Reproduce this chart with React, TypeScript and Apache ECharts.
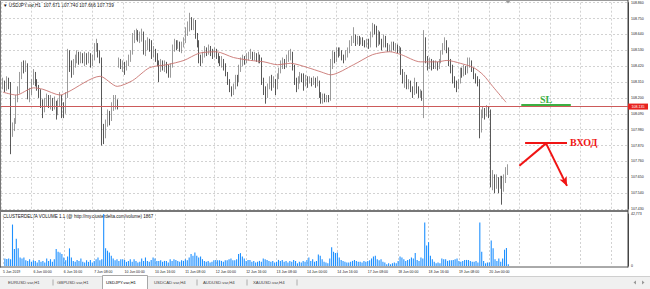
import React, { useEffect, useRef } from "react";
import * as echarts from "echarts";

// ---------- data ----------
const tickLabels = [
  "5 Jun 2019", "6 Jun 00:00", "6 Jun 16:00", "7 Jun 08:00", "10 Jun 00:00", "10 Jun 16:00",
  "11 Jun 08:00", "12 Jun 00:00", "12 Jun 16:00", "13 Jun 08:00", "14 Jun 00:00", "14 Jun 16:00",
  "17 Jun 08:00", "18 Jun 00:00", "18 Jun 16:00", "19 Jun 08:00", "20 Jun 00:00",
];
const BARS_PER_LABEL = 16;
const TOTAL_SLOTS = 330; // includes the empty chart-shift area on the right
const LEAD = 1;

const closes = [
  108.30,108.27,108.31,108.30,107.96,108.00,108.03,108.20,108.24,108.35,
  108.42,108.40,108.43,108.21,108.24,108.31,108.36,108.30,108.27,108.24,
  108.16,108.12,108.17,108.20,108.16,108.19,108.14,108.17,108.10,108.16,
  108.20,108.15,108.10,108.22,108.50,108.44,108.38,108.43,108.47,108.50,
  108.46,108.49,108.47,108.50,108.46,108.49,108.44,108.48,108.55,108.57,
  108.50,108.47,107.97,107.94,108.02,108.08,108.05,108.13,108.16,108.18,
  108.15,108.45,108.42,108.44,108.41,108.44,108.47,108.51,108.62,108.63,
  108.65,108.61,108.63,108.64,108.52,108.56,108.59,108.55,108.50,108.53,
  108.49,108.45,108.41,108.44,108.41,108.43,108.40,108.36,108.42,108.55,
  108.58,108.56,108.58,108.55,108.57,108.60,108.66,108.69,108.72,108.70,
  108.73,108.63,108.58,108.47,108.45,108.50,108.53,108.51,108.54,108.52,
  108.50,108.52,108.49,108.47,108.44,108.46,108.42,108.37,108.32,108.27,
  108.24,108.28,108.34,108.31,108.41,108.45,108.47,108.45,108.48,108.50,
  108.51,108.48,108.50,108.47,108.49,108.46,108.31,108.26,108.22,108.28,
  108.33,108.29,108.32,108.27,108.35,108.39,108.43,108.44,108.42,108.47,
  108.49,108.51,108.42,108.32,108.28,108.33,108.36,108.33,108.30,108.34,
  108.31,108.33,108.30,108.33,108.30,108.31,108.22,108.19,108.21,108.19,
  108.20,108.19,108.44,108.50,108.47,108.52,108.51,108.53,108.48,108.47,
  108.51,108.52,108.58,108.60,108.63,108.59,108.61,108.59,108.60,108.58,
  108.57,108.59,108.56,108.64,108.69,108.67,108.57,108.64,108.60,108.56,
  108.62,108.57,108.54,108.55,108.57,108.55,108.56,108.53,108.54,108.38,
  108.33,108.35,108.29,108.31,108.26,108.23,108.30,108.26,108.22,108.24,
  108.21,108.58,108.47,108.42,108.45,108.43,108.42,108.44,108.41,108.45,
  108.51,108.56,108.59,108.54,108.45,108.42,108.33,108.30,108.27,108.31,
  108.39,108.37,108.40,108.38,108.44,108.45,108.40,108.36,108.33,108.31,
  107.97,108.09,108.12,108.08,108.12,108.10,107.62,107.65,107.60,107.63,
  107.58,107.62,107.58,107.64,107.671,107.739,
];
const highs = [
  108.34,108.32,108.35,108.34,108.31,108.03,108.06,108.22,108.28,108.38,
  108.45,108.46,108.46,108.44,108.27,108.33,108.40,108.38,108.33,108.29,
  108.26,108.19,108.20,108.23,108.22,108.22,108.20,108.21,108.18,108.19,
  108.24,108.22,108.17,108.24,108.54,108.53,108.46,108.47,108.50,108.53,
  108.52,108.52,108.51,108.52,108.51,108.52,108.51,108.50,108.58,108.61,
  108.58,108.53,108.48,108.02,108.05,108.12,108.11,108.17,108.22,108.22,
  108.19,108.48,108.47,108.46,108.45,108.46,108.50,108.53,108.65,108.67,
  108.68,108.67,108.66,108.68,108.66,108.60,108.62,108.61,108.60,108.56,
  108.54,108.51,108.46,108.47,108.46,108.46,108.45,108.43,108.44,108.57,
  108.61,108.60,108.60,108.59,108.59,108.62,108.69,108.73,108.79,108.76,
  108.75,108.74,108.65,108.60,108.50,108.52,108.56,108.55,108.57,108.56,
  108.54,108.55,108.54,108.51,108.49,108.49,108.47,108.44,108.38,108.33,
  108.28,108.30,108.36,108.36,108.43,108.48,108.50,108.49,108.51,108.52,
  108.54,108.52,108.52,108.51,108.52,108.50,108.48,108.34,108.28,108.30,
  108.35,108.36,108.35,108.33,108.37,108.41,108.46,108.48,108.47,108.50,
  108.53,108.54,108.52,108.43,108.34,108.35,108.38,108.37,108.37,108.36,
  108.35,108.35,108.34,108.35,108.34,108.35,108.32,108.24,108.23,108.23,
  108.22,108.22,108.47,108.53,108.52,108.55,108.55,108.55,108.53,108.50,
  108.53,108.55,108.60,108.63,108.69,108.64,108.63,108.63,108.62,108.62,
  108.60,108.61,108.61,108.66,108.72,108.71,108.70,108.67,108.66,108.61,
  108.64,108.63,108.58,108.57,108.59,108.59,108.58,108.57,108.56,108.55,
  108.40,108.38,108.36,108.33,108.32,108.28,108.34,108.31,108.28,108.26,
  108.25,108.67,108.62,108.49,108.48,108.47,108.46,108.46,108.45,108.47,
  108.53,108.58,108.62,108.60,108.55,108.47,108.43,108.35,108.32,108.33,
  108.41,108.41,108.43,108.42,108.48,108.48,108.46,108.41,108.37,108.35,
  108.33,108.12,108.14,108.13,108.15,108.14,108.12,107.70,107.67,107.67,
  107.65,107.66,107.66,107.67,107.72,107.740,
];
const lows = [
  108.26,108.24,108.25,108.26,107.81,107.93,107.97,108.02,108.17,108.23,
  108.33,108.37,108.38,108.19,108.17,108.22,108.29,108.28,108.25,108.20,
  108.13,108.06,108.10,108.14,108.13,108.12,108.11,108.12,108.05,108.08,
  108.14,108.06,108.06,108.09,108.20,108.38,108.34,108.36,108.41,108.44,
  108.43,108.44,108.44,108.42,108.43,108.44,108.41,108.42,108.46,108.52,
  108.48,108.44,107.87,107.88,107.92,108.00,108.01,108.04,108.11,108.12,
  108.12,108.41,108.40,108.38,108.36,108.39,108.42,108.45,108.50,108.58,
  108.60,108.59,108.58,108.59,108.50,108.49,108.53,108.52,108.47,108.48,
  108.45,108.42,108.31,108.38,108.39,108.38,108.37,108.34,108.34,108.41,
  108.52,108.53,108.54,108.52,108.51,108.55,108.58,108.63,108.66,108.67,
  108.67,108.61,108.55,108.44,108.42,108.44,108.48,108.49,108.50,108.49,
  108.47,108.48,108.47,108.44,108.42,108.41,108.39,108.35,108.29,108.24,
  108.21,108.22,108.26,108.28,108.31,108.38,108.42,108.43,108.44,108.46,
  108.47,108.46,108.46,108.45,108.44,108.44,108.29,108.22,108.16,108.20,
  108.26,108.25,108.27,108.22,108.26,108.33,108.37,108.40,108.40,108.41,
  108.45,108.46,108.39,108.29,108.24,108.26,108.30,108.31,108.25,108.28,
  108.27,108.30,108.28,108.29,108.27,108.28,108.20,108.16,108.16,108.17,
  108.17,108.17,108.18,108.40,108.44,108.45,108.48,108.49,108.46,108.44,
  108.46,108.48,108.51,108.56,108.58,108.56,108.57,108.56,108.57,108.56,
  108.55,108.55,108.54,108.55,108.62,108.64,108.55,108.56,108.57,108.53,
  108.55,108.55,108.52,108.52,108.52,108.53,108.52,108.51,108.51,108.36,
  108.30,108.27,108.26,108.26,108.24,108.20,108.22,108.23,108.20,108.20,
  108.18,108.06,108.44,108.39,108.40,108.39,108.40,108.40,108.39,108.40,
  108.44,108.50,108.53,108.51,108.42,108.37,108.30,108.27,108.24,108.26,
  108.30,108.34,108.35,108.36,108.37,108.41,108.38,108.33,108.30,108.28,
  107.92,107.96,108.06,108.05,108.07,108.06,107.58,107.56,107.54,107.57,
  107.54,107.57,107.46,107.55,107.61,107.666,
];
// opens that differ from the previous close (first bar, Monday gap)
const openGaps: Record<number, number> = { 0: 108.28, 61: 108.44 };

const volumes = [
  6100,5800,6200,5600,34100,14000,22400,14500,7000,6200,
  7000,4800,4200,5600,3400,4800,4200,2800,5000,3400,
  4200,2800,6200,4200,5600,3400,5600,14000,11700,11200,
  9800,7000,4800,7800,14500,7000,4200,3400,5000,4200,
  6200,3400,2800,4800,3400,5000,2800,4200,5600,7000,
  4800,5600,42773,14500,12600,11200,8400,6200,4800,5600,
  4200,5600,5600,5000,3400,4200,5600,3400,5600,4200,
  2800,3400,6200,4200,7000,4200,3400,5000,7000,6200,
  4200,4200,4800,3400,4200,4200,2800,5600,4200,5600,
  5000,4200,3400,4800,4200,5600,4800,7000,9800,8400,
  11200,8400,7000,7800,5600,4200,3400,4200,2800,3400,
  4800,5000,4800,4800,4200,3400,4800,4800,5600,6200,
  4800,4800,5600,9800,10600,7800,6200,4200,5000,5000,
  3400,4200,2800,3400,4200,3400,6200,5600,5000,4200,
  3400,4200,2800,3400,5000,4200,5000,3400,4200,2800,
  4200,3400,5000,4200,2200,3400,2800,4200,3400,5000,
  7000,4200,5600,3400,4200,9400,8400,5600,3400,2800,
  2200,6200,15400,11700,10600,11200,7000,5000,4200,3400,
  2800,2800,3400,4200,5000,4200,3400,3400,2800,4200,
  3400,4200,4800,6200,7800,8400,5600,4800,5600,3400,
  2800,1400,2200,1400,2200,2800,2200,4200,7800,7000,
  5600,4200,5000,5600,7000,6200,10600,5000,4200,7000,
  6200,35800,16800,19600,8400,5600,3400,2200,2800,2200,
  6200,5600,5600,4200,4800,4800,5000,5600,6200,4200,
  3400,4200,5000,5000,5000,4200,3400,3400,4200,2800,
  35800,11700,4200,2200,2800,2800,21000,14500,5600,4200,
  6200,3400,6200,13400,14800,1400,
];
const volumeMax = 42773;

// moving average read at sampled bars: [bar, value]
const maPoints: [number, number][] = [
  [0,108.24],[7,108.22],[16,108.27],[21,108.26],[30,108.22],[34,108.24],[51,108.35],
  [60,108.28],[68,108.32],[77,108.41],[86,108.43],[95,108.46],[103,108.51],[112,108.52],
  [121,108.48],[130,108.46],[137,108.45],[144,108.43],[151,108.44],[160,108.41],[167,108.38],
  [172,108.36],[184,108.43],[194,108.50],[203,108.52],[209,108.50],[219,108.45],[228,108.45],
  [233,108.46],[240,108.44],[247,108.41],[252,108.36],[257,108.28],[264,108.17],
];

const priceMin = 107.43;
const priceMax = 108.86;
const priceStep = 0.11;
const levelLine = 108.135;
const lastPrice = 107.739;
const symbolHeader = "USDJPY.var,H1";
const ohlcHeader = [107.671, 107.74, 107.666, 107.739];
const indicatorTitle = "CLUSTERDELTA VOLUME 1.1 (@ http://my.clusterdelta.com/volume) 1867";
const tabs = ["EURUSD.var,H1", "GBPUSD.var,H1", "USDJPY.var,H1", "USDCAD.var,H4", "AUDUSD.var,H4", "XAUUSD.var,H4"];

// hand-drawn annotations, in (slot, price)
const slLevel = 108.15;
const slSlots = [273, 299];
const entryLevel = 107.89;
const entrySlots = [275, 297];
const arrowPts: [number, number][] = [[272, 107.73], [286, 107.885], [297, 107.59]];

// ---------- component ----------
const SANS = "'Liberation Sans', 'DejaVu Sans', sans-serif";
const SERIF = "'Liberation Serif', 'DejaVu Serif', serif";

export default function App() {
  const ref = useRef<HTMLDivElement>(null);

  useEffect(() => {
    if (!ref.current) return;
    const chart = echarts.init(ref.current, undefined, { renderer: "svg" });

    const categories = Array.from({ length: TOTAL_SLOTS }, (_, c) =>
      c % BARS_PER_LABEL === 0 && c / BARS_PER_LABEL < tickLabels.length ? tickLabels[c / BARS_PER_LABEL] : ""
    );

    const candleData = closes.map((cl, j) => {
      const o = openGaps[j] !== undefined ? openGaps[j] : closes[j - 1];
      return [j + LEAD, o, cl, Math.min(lows[j], o, cl), Math.max(highs[j], o, cl)];
    });
    const volData = volumes.map((v, j) => [j + LEAD, v]);
    const maData = maPoints.map(([j, v]) => [j + LEAD, v]);

    const grid = { color: "#d2d2d2", type: [2, 2] as any, width: 1 };
    const red = "#f01414";
    const green = "#3cb043";

    const tabGraphics: any[] = [];
    const tabXs = [8, 57, 106, 154, 203, 253];
    const sepXs = [53, 197, 247, 297];
    tabGraphics.push({ type: "rect", shape: { x: 0, y: 276, width: 650, height: 13 }, style: { fill: "#f0f0f0" }, silent: true });
    tabGraphics.push({ type: "line", shape: { x1: 0, y1: 276.5, x2: 650, y2: 276.5 }, style: { stroke: "#cfcfcf", lineWidth: 1 }, silent: true });
    tabGraphics.push({ type: "rect", shape: { x: 102.5, y: 275.5, width: 45, height: 14 }, style: { fill: "#ffffff", stroke: "#a8a8a8", lineWidth: 1 }, silent: true });
    tabs.forEach((t, i) => {
      tabGraphics.push({
        type: "text", x: tabXs[i], y: 282.5, silent: true,
        style: { text: t, fontSize: 4.3, fontFamily: SANS, fill: i === 2 ? "#000" : "#444", align: "left", verticalAlign: "middle", textAlign: "left", textVerticalAlign: "middle" },
      });
    });
    sepXs.forEach((x) => {
      tabGraphics.push({ type: "line", shape: { x1: x, y1: 279.5, x2: x, y2: 285.5 }, style: { stroke: "#999", lineWidth: 0.8 }, silent: true });
    });

    const option: any = {
      animation: false,
      backgroundColor: "#ffffff",
      textStyle: { fontFamily: SANS },
      grid: [
        { left: 1, width: 627, top: 2.7, height: 206.3 },
        { left: 1, width: 627, top: 214, height: 52 },
      ],
      xAxis: [
        {
          type: "category", gridIndex: 0, data: categories, boundaryGap: false,
          axisLine: { show: false }, axisTick: { show: false }, axisLabel: { show: false },
          splitLine: { show: true, interval: BARS_PER_LABEL - 1, lineStyle: grid },
        },
        {
          type: "category", gridIndex: 1, data: categories, boundaryGap: false,
          axisLine: { show: false }, axisTick: { show: false },
          axisLabel: { show: true, interval: BARS_PER_LABEL - 1, align: "left", fontSize: 3.5, color: "#222", margin: 3.5 },
          splitLine: { show: true, interval: BARS_PER_LABEL - 1, lineStyle: grid },
        },
      ],
      yAxis: [
        {
          type: "value", gridIndex: 0, position: "right", min: priceMin, max: priceMax, interval: priceStep,
          axisLine: { show: true, lineStyle: { color: "#444", width: 1 } }, axisTick: { show: false },
          axisLabel: { fontSize: 3.5, color: "#222", margin: 3, formatter: (v: number) => v.toFixed(3) },
          splitLine: { show: true, lineStyle: grid },
        },
        {
          type: "value", gridIndex: 1, position: "right", min: 0, max: volumeMax, interval: volumeMax,
          axisLine: { show: true, lineStyle: { color: "#444", width: 1 } }, axisTick: { show: false },
          axisLabel: { fontSize: 3.5, color: "#222", margin: 3 },
          splitLine: { show: false },
        },
      ],
      series: [
        {
          type: "candlestick", xAxisIndex: 0, yAxisIndex: 0,
          data: candleData, encode: { x: 0, y: [1, 2, 3, 4] },
          barWidth: 1.3,
          itemStyle: { color: "#ffffff", color0: "#111111", borderColor: "#707070", borderColor0: "#111111", borderWidth: 0.7 },
          markLine: {
            silent: true, animation: false, symbol: ["none", "none"],
            data: [
              {
                yAxis: levelLine,
                lineStyle: { color: "#cc5a5a", width: 1, type: "solid" },
                label: { show: true, position: "end", distance: 0, formatter: levelLine.toFixed(3), color: "#fff", backgroundColor: "#e8231f", fontSize: 3.6, padding: [1, 3.5] },
              },
              {
                yAxis: lastPrice,
                lineStyle: { color: "#000", width: 0, opacity: 0 },
                label: { show: true, position: "end", distance: 0, formatter: lastPrice.toFixed(3), color: "#fff", backgroundColor: "#000", fontSize: 3.6, padding: [1, 3.5] },
              },
              [
                {
                  coord: [slSlots[0], slLevel], symbol: "none",
                  lineStyle: { color: green, width: 2, type: "solid" },
                  label: { show: true, position: "insideMiddleTop", distance: 1, formatter: "SL", color: green, fontSize: 10, fontWeight: "bold", fontFamily: SERIF },
                },
                { coord: [slSlots[1], slLevel], symbol: "none" },
              ],
              [
                {
                  coord: [entrySlots[0], entryLevel], symbol: "none",
                  lineStyle: { color: red, width: 2, type: "solid" },
                  label: { show: true, position: "end", distance: 3, formatter: "ВХОД", color: red, fontSize: 10, fontWeight: "bold", fontFamily: SERIF },
                },
                { coord: [entrySlots[1], entryLevel], symbol: "none" },
              ],
              [
                { coord: arrowPts[0], symbol: "none", lineStyle: { color: red, width: 2, type: "solid" }, label: { show: false } },
                { coord: arrowPts[1], symbol: "none" },
              ],
              [
                { coord: arrowPts[1], symbol: "none", lineStyle: { color: red, width: 2, type: "solid" }, label: { show: false } },
                { coord: arrowPts[2], symbol: "arrow", symbolSize: [6, 9] },
              ],
            ],
          },
          z: 2,
        },
        {
          type: "line", xAxisIndex: 0, yAxisIndex: 0, data: maData,
          symbol: "none", smooth: 0.25, lineStyle: { color: "#c87470", width: 0.9 }, z: 3, silent: true,
        },
        {
          type: "bar", xAxisIndex: 1, yAxisIndex: 1, data: volData,
          barWidth: 1.1, itemStyle: { color: "#1e90ff" }, silent: true,
        },
      ],
      graphic: [
        // frame
        { type: "line", shape: { x1: 0.5, y1: 0, x2: 0.5, y2: 267.5 }, style: { stroke: "#777", lineWidth: 1 }, silent: true },
        { type: "line", shape: { x1: 0, y1: 0.5, x2: 628, y2: 0.5 }, style: { stroke: "#999", lineWidth: 1 }, silent: true },
        { type: "line", shape: { x1: 0, y1: 211, x2: 628, y2: 211 }, style: { stroke: "#777", lineWidth: 2 }, silent: true },
        { type: "line", shape: { x1: 0, y1: 267, x2: 628, y2: 267 }, style: { stroke: "#555", lineWidth: 1 }, silent: true },
        { type: "line", shape: { x1: 628, y1: 0, x2: 628, y2: 267.5 }, style: { stroke: "#444", lineWidth: 1 }, silent: true },
        // chart shift marker
        { type: "polygon", shape: { points: [[505, 0], [511, 0], [508, 3.5]] }, style: { fill: "#999" }, silent: true },
        // header
        {
          type: "text", x: 3, y: 5, silent: true,
          style: { text: "▼ " + symbolHeader + "  " + ohlcHeader.map((v) => v.toFixed(3)).join(" "), fontSize: 4.6, fontFamily: SANS, fill: "#111", align: "left", verticalAlign: "middle", textAlign: "left", textVerticalAlign: "middle" },
        },
        {
          type: "text", x: 3, y: 216.5, silent: true,
          style: { text: indicatorTitle, fontSize: 4.5, fontFamily: SANS, fill: "#111", align: "left", verticalAlign: "middle", textAlign: "left", textVerticalAlign: "middle" },
        },
        ...tabGraphics,
        // scroll arrows
        { type: "polygon", shape: { points: [[636, 280.5], [636, 284.5], [633.5, 282.5]] }, style: { fill: "#999" }, silent: true },
        { type: "polygon", shape: { points: [[642, 280.5], [642, 284.5], [644.5, 282.5]] }, style: { fill: "#999" }, silent: true },
      ],
    };

    chart.setOption(option);
    return () => chart.dispose();
  }, []);

  return <div ref={ref} style={{ position: "fixed", left: 0, top: 0, width: 650, height: 289 }} />;
}
